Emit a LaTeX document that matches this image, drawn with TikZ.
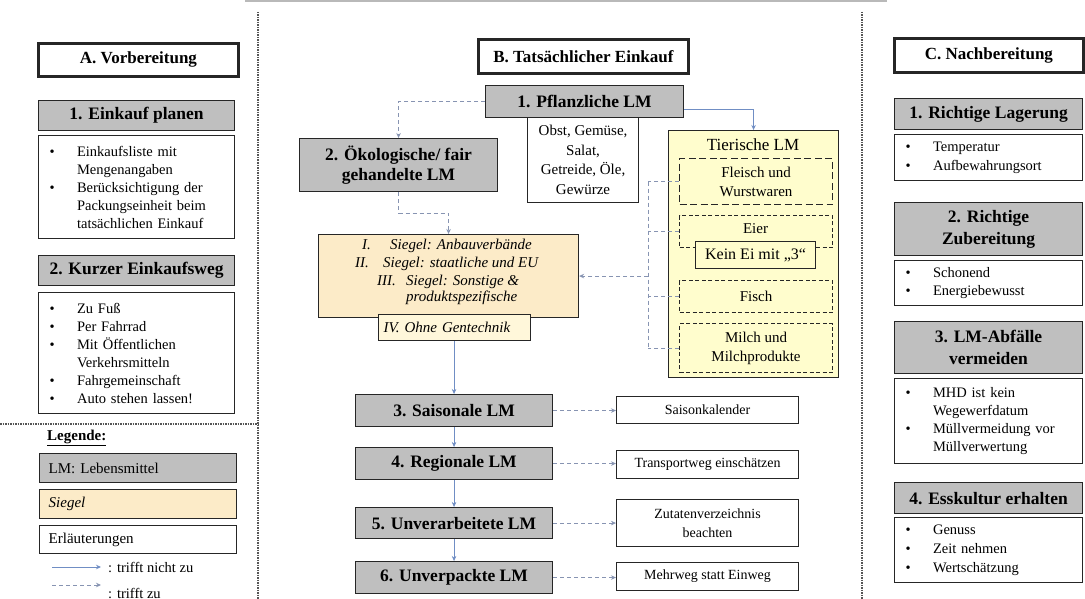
\documentclass[tikz,border=0pt]{standalone}
\usepackage{fontspec}
\setmainfont{Liberation Serif}
\usetikzlibrary{arrows.meta}
\definecolor{boxgray}{RGB}{191,191,191}
\definecolor{siegelfill}{RGB}{252,235,200}
\definecolor{ohnefill}{RGB}{255,247,218}
\definecolor{tierfill}{RGB}{255,253,205}
\definecolor{conblue}{RGB}{112,142,196}
\definecolor{condash}{RGB}{135,148,178}
\definecolor{sepcol}{RGB}{85,85,85}
\newcommand{\bul}{\makebox[27.5pt][l]{\textbullet}}
\newcommand{\ind}{\hspace*{27.5pt}}
\tikzset{
  base/.style={draw=black!85, line width=1.1pt, inner sep=0pt, anchor=north west, align=center},
  headbox/.style={base, line width=2.8pt, fill=white, font=\fontsize{17}{20}\selectfont\bfseries},
  graybox/.style={base, fill=boxgray, font=\fontsize{17.5}{21}\selectfont\bfseries},
  listbox/.style={base, fill=white, align=left, inner xsep=11pt, font=\fontsize{14.5}{18}\selectfont},
  notebox/.style={base, fill=white, font=\fontsize{14}{19}\selectfont},
  subbox/.style={base, dash pattern=on 4pt off 2.5pt, fill=tierfill, font=\fontsize{15}{19}\selectfont},
  legbox/.style={base, line width=1.4pt, align=left, inner xsep=9pt, text width=179pt, font=\fontsize{15}{18}\selectfont},
  plain/.style={inner sep=0pt, font=\fontsize{15}{19}\selectfont},
  scon/.style={draw=conblue, line width=1pt, -{Stealth[length=5pt,width=4.5pt]}},
  dcon/.style={draw=condash, line width=1pt, dash pattern=on 4pt off 3pt, -{Stealth[length=5pt,width=4.5pt]}},
  dline/.style={draw=condash, line width=1pt, dash pattern=on 4pt off 3pt},
  sepline/.style={draw=sepcol, line width=1.2pt, dash pattern=on 1.5pt off 1pt},
}
\begin{document}
\begin{tikzpicture}[x=1pt,y=-1pt]
\clip (0,0) rectangle (1085,599);
\fill[white] (0,0) rectangle (1085,599);
% top faint line and separators
\draw[gray!55, line width=2pt] (245,1) -- (887,1);
\draw[sepline] (258,12) -- (258,599);
\draw[sepline] (862,12) -- (862,599);
\draw[sepline] (0,424) -- (258,424);

% ===== A column =====
\node[headbox, minimum width=200pt, minimum height=33pt] (A) at (37,42) {A. Vorbereitung};
\node[graybox, minimum width=196pt, minimum height=30pt] (l1h) at (38,100) {1. Einkauf planen};
\node[listbox, minimum width=196pt, minimum height=103pt, text width=174pt] (l1c) at (38,135)
 {\bul Einkaufsliste mit\\\ind Mengenangaben\\\bul Berücksichtigung der\\\ind Packungseinheit beim\\\ind tatsächlichen Einkauf};
\node[graybox, minimum width=196pt, minimum height=30pt] (l2h) at (38,255) {2. Kurzer Einkaufsweg};
\node[listbox, minimum width=196pt, minimum height=121pt, text width=174pt] (l2c) at (38,292)
 {\bul Zu Fuß\\\bul Per Fahrrad\\\bul Mit Öffentlichen\\\ind Verkehrsmitteln\\\bul Fahrgemeinschaft\\\bul Auto stehen lassen!};

% legend
\node[plain, anchor=west] (legt) at (47,438) {\underline{\textbf{Legende:}}};
\node[legbox, fill=boxgray, minimum width=197pt, minimum height=29pt] (legLM) at (39,453) {LM: Lebensmittel};
\node[legbox, fill=siegelfill, minimum width=197pt, minimum height=29pt] (legS) at (39,489) {\itshape Siegel};
\node[legbox, fill=white, minimum width=197pt, minimum height=28pt] (legE) at (39,525) {Erläuterungen};
\coordinate (la1) at (52,567); \coordinate (la2) at (101,567);
\coordinate (lb1) at (52,585); \coordinate (lb2) at (101,585);
\draw[scon] (la1) -- (la2);
\draw[dcon] (lb1) -- (lb2);
\node[plain, anchor=west, font=\fontsize{14.5}{18}\selectfont] (lt1) at (108,567) {: trifft nicht zu};
\node[plain, anchor=west, font=\fontsize{14.5}{18}\selectfont] (lt2) at (108,593) {: trifft zu};

% ===== B column =====
\node[headbox, minimum width=210pt, minimum height=34pt] (B) at (477,38) {B. Tatsächlicher Einkauf};
\node[graybox, minimum width=198pt, minimum height=32pt] (pfl) at (485,85) {1. Pflanzliche LM};
\node[base, fill=white, minimum width=111pt, minimum height=85pt, font=\fontsize{15}{19.5}\selectfont] (obst) at (527,117)
 {Obst, Gemüse,\\Salat,\\Getreide, Öle,\\Gewürze};
\node[graybox, minimum width=198pt, minimum height=53pt, font=\fontsize{17.5}{20}\selectfont\bfseries] (oeko) at (299,138)
 {2. Ökologische/ fair\\gehandelte LM};

% Siegel box
\node[base, fill=siegelfill, minimum width=260pt, minimum height=83pt] (siegel) at (318,234) {};
\node[plain, anchor=base west, font=\fontsize{15}{18}\selectfont\itshape] (s1) at (362,249.5) {\makebox[28pt][l]{I.}Siegel: Anbauverbände};
\node[plain, anchor=base west, font=\fontsize{15}{18}\selectfont\itshape] (s2) at (355,267.5) {\makebox[28pt][l]{II.}Siegel: staatliche und EU};
\node[plain, anchor=base west, font=\fontsize{15}{18}\selectfont\itshape] (s3) at (377,285.5) {\makebox[29pt][l]{III.}Siegel: Sonstige \&};
\node[plain, anchor=base west, font=\fontsize{15}{18}\selectfont\itshape] (s4) at (406,301.5) {produktspezifische};
\node[base, fill=ohnefill, minimum width=152pt, minimum height=26pt, align=left, inner xsep=5pt, text width=142pt,
      font=\fontsize{15}{18}\selectfont\itshape] (ohne) at (378,314) {IV. Ohne Gentechnik};

% Tierische LM
\node[base, fill=tierfill, minimum width=170pt, minimum height=247pt] (tier) at (668,130) {};
\node[plain, font=\fontsize{17}{20}\selectfont] (tiertitle) at (753,145) {Tierische LM};
\node[subbox, dash pattern=on 7pt off 3.5pt, minimum width=153pt, minimum height=46pt] (fleisch) at (679,158) {Fleisch und\\Wurstwaren};
\node[subbox, minimum width=153pt, minimum height=32pt] (eier) at (679,215) {};
\node[plain, font=\fontsize{15}{19}\selectfont] (eiertext) at (755.5,229) {Eier};
\node[base, fill=tierfill, minimum width=120pt, minimum height=27pt, font=\fontsize{16}{19}\selectfont] (keinei) at (695,241) {Kein Ei mit „3“};
\node[subbox, minimum width=153pt, minimum height=32pt] (fisch) at (679,280) {Fisch};
\node[subbox, minimum width=153pt, minimum height=49pt] (milch) at (679,323) {Milch und\\Milchprodukte};

% steps 3-6
\node[graybox, minimum width=197pt, minimum height=32pt] (s3b) at (355,394) {3. Saisonale LM};
\node[graybox, minimum width=197pt, minimum height=32pt] (s4b) at (355,447) {4. Regionale LM};
\node[graybox, minimum width=197pt, minimum height=31pt] (s5b) at (355,507) {5. Unverarbeitete LM};
\node[graybox, minimum width=197pt, minimum height=32pt] (s6b) at (355,561) {6. Unverpackte LM};
\node[notebox, minimum width=182pt, minimum height=27pt] (n3) at (616,396) {Saisonkalender};
\node[notebox, minimum width=182pt, minimum height=28pt] (n4) at (616,450) {Transportweg einschätzen};
\node[notebox, minimum width=182pt, minimum height=47pt] (n5) at (616,499) {Zutatenverzeichnis\\beachten};
\node[notebox, minimum width=182pt, minimum height=28pt] (n6) at (616,562) {Mehrweg statt Einweg};

% connectors B
\draw[dcon] (pfl.west) -| (oeko.north);
\draw[dcon] (oeko.south) -- ++(0,21) -| (siegel.north);
\draw[scon] ([yshift=-8pt]pfl.east) -| (tier.north);
\coordinate (bus) at (648,0);
\draw[dline] (fleisch.west) -- (fleisch.west -| bus);
\draw[dline] (eier.west) -- (eier.west -| bus);
\draw[dline] (fisch.west) -- (fisch.west -| bus);
\draw[dline] (milch.west) -- (milch.west -| bus);
\draw[dline] (fleisch.west -| bus) -- (milch.west -| bus);
\draw[dcon] (siegel.east -| bus) -- (siegel.east);
\draw[scon] (ohne.south -| s3b.north) -- (s3b.north);
\draw[scon] (s3b) -- (s4b);
\draw[scon] (s4b) -- (s5b);
\draw[scon] (s5b) -- (s6b);
\draw[dcon] (s3b.east) -- (s3b.east -| n3.west);
\draw[dcon] (s4b.east) -- (s4b.east -| n4.west);
\draw[dcon] (s5b.east) -- (s5b.east -| n5.west);
\draw[dcon] (s6b.east) -- (s6b.east -| n6.west);

% ===== C column =====
\node[headbox, minimum width=189pt, minimum height=34pt] (C) at (893,37) {C. Nachbereitung};
\node[graybox, minimum width=188pt, minimum height=31pt] (rh1) at (894,98) {1. Richtige Lagerung};
\node[listbox, minimum width=188pt, minimum height=46pt, text width=166pt, font=\fontsize{14.5}{19}\selectfont] (rc1) at (894,134)
 {\bul Temperatur\\\bul Aufbewahrungsort};
\node[graybox, minimum width=188pt, minimum height=53pt, font=\fontsize{17.5}{22}\selectfont\bfseries] (rh2) at (894,202) {2. Richtige\\Zubereitung};
\node[listbox, minimum width=188pt, minimum height=45pt, text width=166pt] (rc2) at (894,260)
 {\bul Schonend\\\bul Energiebewusst};
\node[graybox, minimum width=188pt, minimum height=52pt, font=\fontsize{17.5}{22}\selectfont\bfseries] (rh3) at (894,321) {3. LM-Abfälle\\vermeiden};
\node[listbox, minimum width=188pt, minimum height=85pt, text width=166pt] (rc3) at (894,378)
 {\bul MHD ist kein\\\ind Wegewerfdatum\\\bul Müllvermeidung vor\\\ind Müllverwertung};
\node[graybox, minimum width=188pt, minimum height=31pt] (rh4) at (894,482) {4. Esskultur erhalten};
\node[listbox, minimum width=188pt, minimum height=65pt, text width=166pt, font=\fontsize{14.5}{19}\selectfont] (rc4) at (894,517)
 {\bul Genuss\\\bul Zeit nehmen\\\bul Wertschätzung};
\end{tikzpicture}
\end{document}
